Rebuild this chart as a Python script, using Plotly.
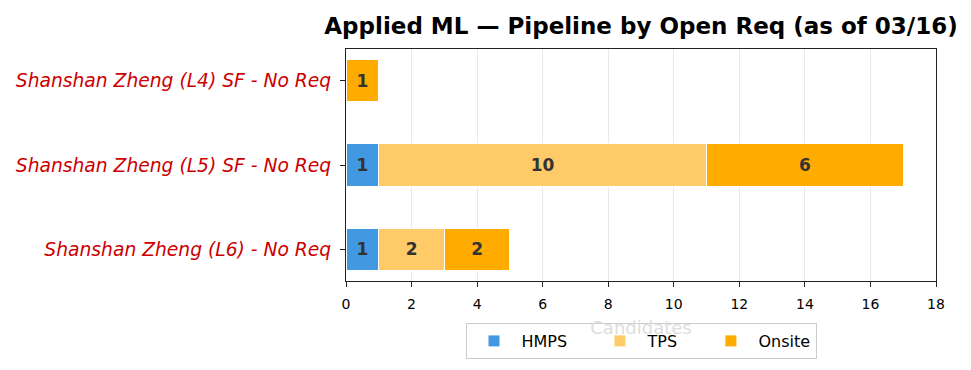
import plotly.graph_objects as go

categories = ["Shanshan Zheng (L6) - No Req",
              "Shanshan Zheng (L5) SF - No Req",
              "Shanshan Zheng (L4) SF - No Req"]
hmps = [1, 1, 0]
tps = [2, 10, 0]
onsite = [2, 6, 1]
series_names = ["HMPS", "TPS", "Onsite"]
series_colors = ["#4299E1", "#FFCB69", "#FFAB00"]
series_values = [hmps, tps, onsite]
x_ticks = list(range(0, 19, 2))

W, H = 963, 362
L, T, PW, PH = 338, 41, 590, 232
NBSP = "\u00a0"

fig = go.Figure()
for i, (name, vals, color) in enumerate(zip(series_names, series_values, series_colors)):
    label = name + (NBSP * 4 if i < len(series_names) - 1 else "")
    fig.add_trace(go.Bar(
        y=categories, x=vals, name=label, orientation="h",
        marker=dict(color=color, line=dict(color="white", width=1)),
        text=[str(v) if v > 0 else "" for v in vals],
        textposition="inside", insidetextanchor="middle",
        constraintext="none", textangle=0,
        textfont=dict(family="DejaVu Sans", size=17, color="#333333", weight="bold"),
        hovertemplate=name + ": %{x}<extra>%{y}</extra>",
    ))

fig.update_layout(
    barmode="stack", bargap=0.5,
    width=W, height=H,
    margin=dict(l=L, r=W - L - PW, t=T, b=H - T - PH, pad=0, autoexpand=False),
    plot_bgcolor="white", paper_bgcolor="white",
    font=dict(family="DejaVu Sans", color="#000000"),
    title=dict(text="<b>Applied ML — Pipeline by Open Req (as of 03/16)</b>",
               font=dict(family="DejaVu Sans", size=23, color="#000000"),
               x=0.5, xref="paper", xanchor="center",
               y=1 - 18 / H, yref="container", yanchor="middle"),
    legend=dict(orientation="h", x=0.5, xanchor="center", y=-42 / PH, yanchor="top",
                bgcolor="rgba(255,255,255,0.8)", bordercolor="#cccccc", borderwidth=1,
                font=dict(family="DejaVu Sans", size=16, color="#000000"),
                itemwidth=45, traceorder="normal"),
    xaxis=dict(range=[0, 18], tickvals=x_ticks, ticktext=[str(t) for t in x_ticks],
               automargin=False,
               showgrid=True, gridcolor="#e8e8e8", gridwidth=1,
               showline=True, linecolor="#222222", linewidth=1.2, mirror=True,
               ticks="outside", ticklen=5, tickcolor="#222222",
               ticklabelstandoff=5,
               tickfont=dict(family="DejaVu Sans", size=14, color="#000000"),
               zeroline=False,
               title=dict(text="Candidates", standoff=10,
                          font=dict(family="DejaVu Sans", size=18, color="#dddddd"))),
    yaxis=dict(categoryorder="array", categoryarray=categories,
               range=[-0.375, 2.375], automargin=False,
               showline=True, linecolor="#222222", linewidth=1.2, mirror=True,
               ticks="outside", ticklen=5, tickcolor="#222222",
               ticklabelstandoff=5,
               showgrid=False,
               tickfont=dict(family="DejaVu Sans", size=18.7, color="#CC0000", style="italic")),
)

fig.write_html("out.html")
